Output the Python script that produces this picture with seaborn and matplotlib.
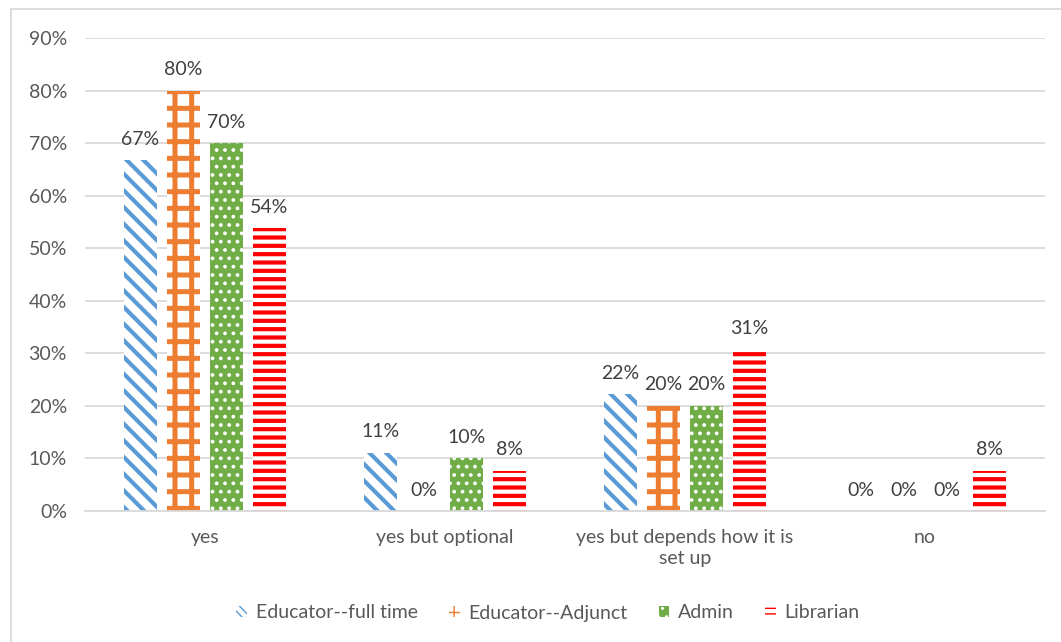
import matplotlib
matplotlib.use("Agg")
import matplotlib.pyplot as plt
from matplotlib.patches import Rectangle
import pandas as pd
import seaborn as sns

# Data (percent of respondents)

categories = ["yes", "yes but optional", "yes but depends how it is\nset up", "no"]
groups = ["Educator--full time", "Educator--Adjunct", "Admin", "Librarian"]
educator_full = [66.7, 11.1, 22.2, 0.0]
educator_adjunct = [80.0, 0.0, 20.0, 0.0]
admin = [70.0, 10.0, 20.0, 0.0]
librarian = [53.8, 7.7, 30.8, 7.7]
y_ticks = [0, 10, 20, 30, 40, 50, 60, 70, 80, 90]

series = [educator_full, educator_adjunct, admin, librarian]
rows = []
for g, vals in zip(groups, series):
    for c, v in zip(categories, vals):
        rows.append({"category": c, "group": g, "pct": v})
df = pd.DataFrame(rows)

# styles: (face colour, hatch colour, hatch, legend hatch)
styles = [
    ("white", "#5B9BD5", "\\\\", "\\\\\\\\"),
    ("white", "#ED7D31", "+", "++"),
    ("#70AD47", "white", "..", ".."),
    ("white", "#FF0000", "--", "---"),
]
hatch_widths = [3.0, 3.6, 1.5, 3.0]


def style_patch(p, face, hc, hatch, hw):
    p.set_facecolor(face)
    p.set_edgecolor(hc)
    p.set_linewidth(0)
    p.set_hatch(hatch)
    if hasattr(p, "set_hatch_linewidth"):
        p.set_hatch_linewidth(hw)
    else:
        p._hatch_linewidth = hw


sns.set_theme(style="white")
plt.rcParams["font.family"] = ["Lato", "DejaVu Sans"]
text_col = "#595959"
grid_col = "#D9D9D9"
fs = 14

fig = plt.figure(figsize=(10.61, 6.42), dpi=100)
ax = fig.add_axes([85 / 1061, 131 / 642, 960 / 1061, 473 / 642])

sns.barplot(data=df, x="category", y="pct", hue="group", order=categories,
            hue_order=groups, width=0.717, gap=0.23, errorbar=None, ax=ax)

for cont, (face, hc, hatch, _), hw in zip(ax.containers, styles, hatch_widths):
    for p in cont:
        style_patch(p, face, hc, hatch, hw)
    ax.bar_label(cont, labels=[f"{v:.0f}%" for v in cont.datavalues],
                 padding=9, color="#404040", fontsize=fs)

ax.set_ylim(0, 90)
ax.set_yticks(y_ticks)
ax.set_yticklabels([f"{t}%" for t in y_ticks])
ax.set_xlim(-0.5, 3.5)
ax.yaxis.grid(True, color=grid_col, linewidth=1.3)
ax.set_axisbelow(True)
for s in ["top", "right", "left"]:
    ax.spines[s].set_visible(False)
ax.spines["bottom"].set_color(grid_col)
ax.spines["bottom"].set_linewidth(1.3)
ax.tick_params(axis="y", length=0, pad=13, labelsize=fs, labelcolor=text_col)
ax.tick_params(axis="x", length=0, pad=13, labelsize=fs, labelcolor=text_col)
for lbl in ax.get_xticklabels():
    lbl.set_linespacing(1.25)
ax.set_xlabel("")
ax.set_ylabel("")

ax.legend_.remove()
handles = []
for face, hc, _, lhatch in styles:
    r = Rectangle((0, 0), 1, 1)
    style_patch(r, face, hc, lhatch, 2.0)
    handles.append(r)
fig.legend(handles, groups, loc="center", bbox_to_anchor=(548 / 1061, 1 - 613 / 642),
           ncol=4, frameon=False, fontsize=fs, labelcolor=text_col,
           handlelength=0.55, handleheight=0.55, handletextpad=0.45, columnspacing=1.6)

# outer chart frame
fig.patches.append(Rectangle((11 / 1061, -0.01), 1.0, 1 - 9 / 642 + 0.01,
                             transform=fig.transFigure, fill=False,
                             edgecolor=grid_col, linewidth=1.3))

fig.savefig("out.png", dpi=100, facecolor="white")
